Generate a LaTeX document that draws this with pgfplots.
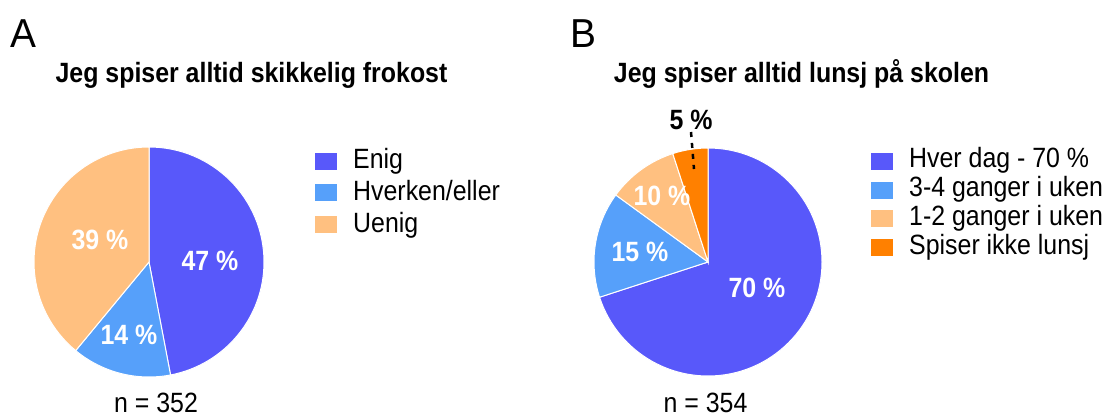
\documentclass[border=0pt]{standalone}
\usepackage{pgfplots}
\pgfplotsset{compat=1.18}
\usepackage{fontspec}
\setmainfont{Liberation Sans}
\definecolor{cEnig}{RGB}{88,88,250}
\definecolor{cHv}{RGB}{86,160,250}
\definecolor{cUe}{RGB}{255,192,128}
\definecolor{cOr}{RGB}{255,128,0}
\newcommand{\fs}[1]{\fontsize{#1}{#1}\selectfont}
\newcommand{\T}[1]{\scalebox{1}[1.12]{\fs{25}#1}}
\newcommand{\TB}[1]{\scalebox{1}[1.12]{\fs{25}\bfseries #1}}
% cx cy R start(%) value(%) colour
\newcommand{\pieslice}[6]{%
  \fill[#6, draw=white, line width=1bp] (axis cs:#1,#2) -- +({90-3.6*(#4)}:#3bp)
    arc[start angle={90-3.6*(#4)}, end angle={90-3.6*(#4+#5)}, radius=#3bp] -- cycle;}
\newcommand{\legsq}[3]{% x y colour
  \fill[#3] (axis cs:#1,#2) ++(-11bp,-8.5bp) rectangle ++(22bp,17bp);}
\begin{document}
\begin{tikzpicture}
\begin{axis}[x=1bp, y=1bp, xmin=0, xmax=1104, ymin=0, ymax=417,
  hide axis, clip=false, anchor=origin, at={(0,0)}]
\path (axis cs:0,0) rectangle (axis cs:1104,417);
% ---------- Panel A ----------
\node[anchor=base west, inner sep=0pt] at (axis cs:10,370) {\scalebox{1}[1.04]{\fs{39}A}};
\node[anchor=base, inner sep=0pt] at (axis cs:251.5,335) {\TB{Jeg spiser alltid skikkelig frokost}};
% values: Enig 47, Hverken/eller 14, Uenig 39
\pieslice{149}{155}{115}{0}{47}{cEnig}
\pieslice{149}{155}{115}{47}{14}{cHv}
\pieslice{149}{155}{115}{61}{39}{cUe}
\node[text=white, inner sep=0pt] at (axis cs:210,156) {\TB{47 \%}};
\node[text=white, inner sep=0pt] at (axis cs:129,82) {\TB{14 \%}};
\node[text=white, inner sep=0pt] at (axis cs:100,177) {\TB{39 \%}};
\legsq{326}{256}{cEnig}
\legsq{326}{224.5}{cHv}
\legsq{326}{193}{cUe}
\node[anchor=base west, inner sep=0pt] at (axis cs:353,249) {\T{Enig}};
\node[anchor=base west, inner sep=0pt] at (axis cs:353,217) {\T{Hverken/eller}};
\node[anchor=base west, inner sep=0pt] at (axis cs:353,185) {\T{Uenig}};
\node[anchor=base, inner sep=0pt] at (axis cs:156,5) {\T{n = 352}};
% ---------- Panel B ----------
\node[anchor=base west, inner sep=0pt] at (axis cs:570,370) {\scalebox{1}[1.04]{\fs{39}B}};
\node[anchor=base, inner sep=0pt] at (axis cs:801.5,335) {\TB{Jeg spiser alltid lunsj på skolen}};
% values: Hver dag 70, 3-4 ganger 15, 1-2 ganger 10, Spiser ikke 5
\pieslice{708}{155}{114}{0}{70}{cEnig}
\pieslice{708}{155}{114}{70}{15}{cHv}
\pieslice{708}{155}{114}{85}{10}{cUe}
\pieslice{708}{155}{114}{95}{5}{cOr}
\node[text=white, inner sep=0pt] at (axis cs:757,129) {\TB{70 \%}};
\node[text=white, inner sep=0pt] at (axis cs:640,165) {\TB{15 \%}};
\node[text=white, inner sep=0pt] at (axis cs:662,221) {\TB{10 \%}};
\node[text=black, inner sep=0pt] at (axis cs:691,297) {\TB{5 \%}};
\draw[black, line width=2.5bp, dash pattern=on 5bp off 6bp] (axis cs:691,285) -- (axis cs:694,248);
\legsq{881.5}{256}{cEnig}
\legsq{881.5}{227}{cHv}
\legsq{881.5}{199}{cUe}
\legsq{881.5}{170}{cOr}
\node[anchor=base west, inner sep=0pt] at (axis cs:909,250) {\T{Hver dag - 70 \%}};
\node[anchor=base west, inner sep=0pt] at (axis cs:909,221) {\T{3-4 ganger i uken}};
\node[anchor=base west, inner sep=0pt] at (axis cs:909,192) {\T{1-2 ganger i uken}};
\node[anchor=base west, inner sep=0pt] at (axis cs:909,163) {\T{Spiser ikke lunsj}};
\node[anchor=base, inner sep=0pt] at (axis cs:705.5,5) {\T{n = 354}};
\end{axis}
\end{tikzpicture}
\end{document}
